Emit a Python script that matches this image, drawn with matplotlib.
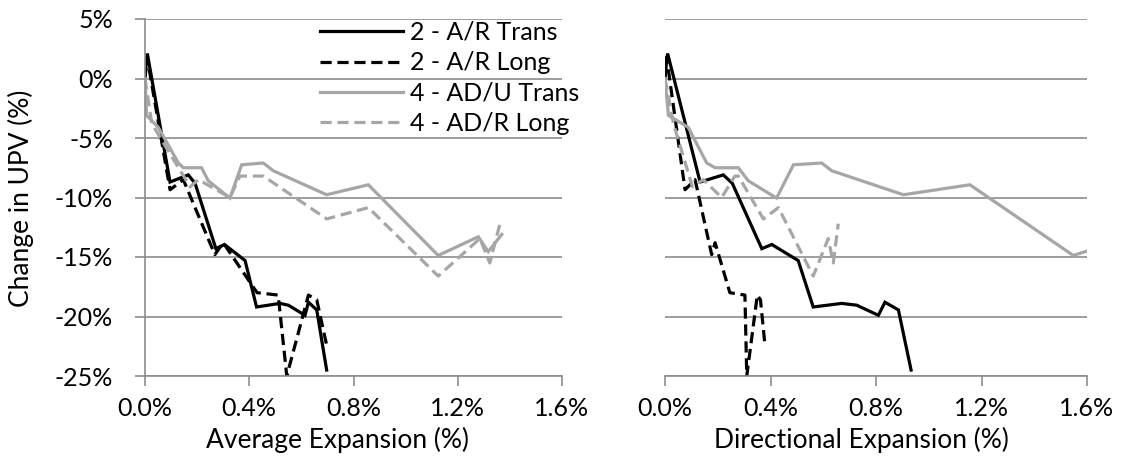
import matplotlib
matplotlib.use("Agg")
import matplotlib.pyplot as plt
from matplotlib.ticker import FuncFormatter, MultipleLocator

plt.rcParams['font.family'] = ['Lato', 'DejaVu Sans']

# ---- data (values in %) ----
# 2 - A/R Trans
y_ar_trans = [0.3, 2.1, -8.7, -8.1, -8.8, -14.3, -13.95, -15.3, -19.2, -18.9, -19.05, -19.9, -18.8, -19.45, -24.5]
avg_ar_trans = [0, 0.009, 0.096, 0.166, 0.192, 0.272, 0.305, 0.384, 0.428, 0.518, 0.55, 0.614, 0.627, 0.659, 0.697]
dir_ar_trans = [0, 0.010, 0.133, 0.221, 0.255, 0.367, 0.405, 0.505, 0.562, 0.670, 0.727, 0.809, 0.834, 0.885, 0.933]

# 2 - A/R Long
y_ar_long = [0, 1.8, -9.35, -8.5, -14.8, -13.8, -18.0, -18.2, -25.0, -18.2, -18.6, -22.4]
avg_ar_long = [0, 0.008, 0.096, 0.147, 0.268, 0.300, 0.430, 0.511, 0.544, 0.627, 0.659, 0.697]
dir_ar_long = [0, 0.006, 0.076, 0.114, 0.177, 0.190, 0.246, 0.303, 0.310, 0.350, 0.362, 0.379]

# 4 - AD/U Trans
y_adu_trans = [0, -3.1, -4.1, -7.1, -7.5, -7.5, -8.6, -10.05, -7.25, -7.1, -7.75, -9.77, -8.93, -14.87, -13.3, -14.55, -13.1]
avg_adu_trans = [0, 0.006, 0.051, 0.128, 0.147, 0.217, 0.243, 0.326, 0.371, 0.454, 0.492, 0.697, 0.857, 1.125, 1.279, 1.317, 1.369]
dir_adu_trans = [0, 0.013, 0.088, 0.158, 0.190, 0.278, 0.316, 0.423, 0.487, 0.594, 0.632, 0.904, 1.156, 1.548, 1.77, 1.80, 1.85]

# 4 - AD/R Long
y_adr_long = [0, -3.8, -9.1, -8.5, -10.0, -8.2, -8.2, -11.8, -10.85, -16.6, -13.45, -15.5, -12.2]
avg_adr_long = [0, 0.026, 0.173, 0.205, 0.326, 0.364, 0.454, 0.697, 0.857, 1.125, 1.285, 1.323, 1.362]
dir_adr_long = [0, 0.032, 0.104, 0.145, 0.215, 0.265, 0.278, 0.373, 0.430, 0.562, 0.619, 0.638, 0.657]

labels = ['2 - A/R Trans', '2 - A/R Long', '4 - AD/U Trans', '4 - AD/R Long']
xlabels = ['Average Expansion (%)', 'Directional Expansion (%)']

GRID = '#8c8c8c'
GRAY = '#a6a6a6'
FS = 18
FS_TITLE = 19

fig = plt.figure(figsize=(11.27, 4.72), dpi=100)
W, H = 1127, 472
ax1 = fig.add_axes([145 / W, (H - 376) / H, 417 / W, 357 / H])
ax2 = fig.add_axes([665 / W, (H - 376) / H, 422 / W, 357 / H])

series = [
    (y_ar_trans, avg_ar_trans, dir_ar_trans, 'black', '-'),
    (y_ar_long, avg_ar_long, dir_ar_long, 'black', '--'),
    (y_adu_trans, avg_adu_trans, dir_adu_trans, GRAY, '-'),
    (y_adr_long, avg_adr_long, dir_adr_long, GRAY, '--'),
]

pct1 = FuncFormatter(lambda v, p: f"{v:.1f}%")
pct0 = FuncFormatter(lambda v, p: f"{v:.0f}%")

for i, ax in enumerate([ax1, ax2]):
    for (ys, xa, xd, col, ls), lab in zip(series, labels):
        xs = xa if i == 0 else xd
        line, = ax.plot(xs, ys, color=col, lw=2.3, label=lab, solid_joinstyle='miter')
        if ls == '--':
            line.set_dashes((3.5, 1.8))
    ax.set_xlim(0, 1.6)
    ax.set_ylim(-25, 5)
    ax.xaxis.set_major_locator(MultipleLocator(0.4))
    ax.yaxis.set_major_locator(MultipleLocator(5))
    ax.xaxis.set_major_formatter(pct1)
    ax.yaxis.set_major_formatter(pct0)
    ax.grid(axis='y', color=GRID, lw=1.2)
    ax.set_axisbelow(True)
    for s in ['top', 'right']:
        ax.spines[s].set_visible(False)
    ax.spines['bottom'].set_color(GRID)
    ax.spines['bottom'].set_linewidth(1.2)
    ax.spines['left'].set_color(GRID)
    ax.spines['left'].set_linewidth(1.2)
    ax.tick_params(axis='x', direction='out', length=7, width=1.2, color=GRID,
                   labelsize=FS, pad=8)
    ax.tick_params(axis='y', direction='out', length=7, width=1.2, color=GRID,
                   labelsize=FS, pad=16)
    ax.set_xlabel(xlabels[i], fontsize=FS_TITLE)

ax1.xaxis.set_label_coords(338 / W, (H - 427) / H, transform=fig.transFigure)
ax2.xaxis.set_label_coords(861 / W, (H - 427) / H, transform=fig.transFigure)

ax2.spines['left'].set_visible(False)
ax2.tick_params(axis='y', left=False, labelleft=False)

ax1.set_ylabel('Change in UPV (%)', fontsize=FS_TITLE)
ax1.yaxis.set_label_coords(34 / W, (H - 198) / H, transform=fig.transFigure)

leg = ax1.legend(loc='upper left', bbox_to_anchor=(320 / W, 1 - 21 / H),
                 bbox_transform=fig.transFigure, frameon=False, fontsize=FS,
                 handlelength=3.3, handletextpad=0.3, labelspacing=0.29,
                 borderpad=0, borderaxespad=0)

fig.savefig('out.png', dpi=100)
